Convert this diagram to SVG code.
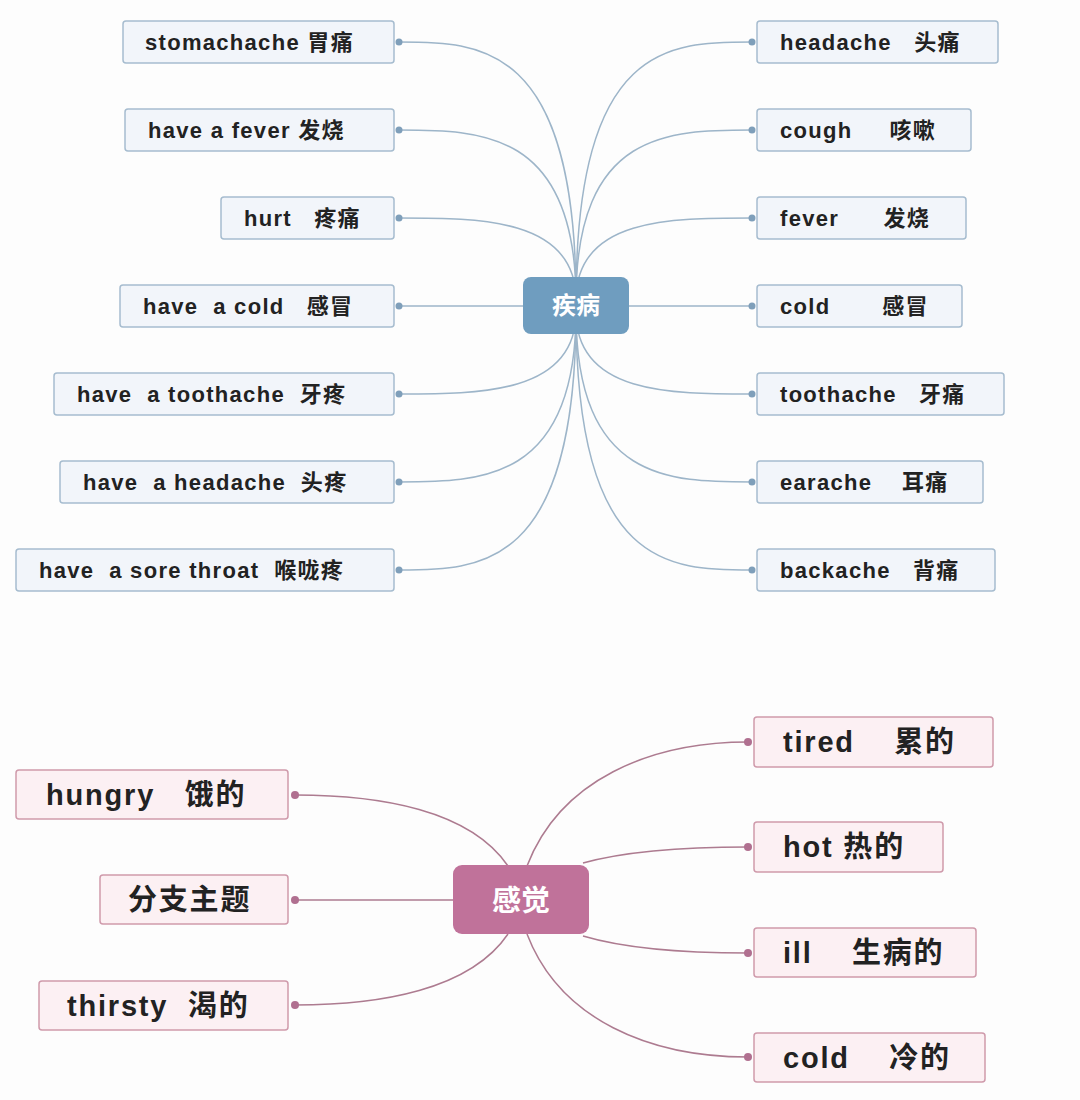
<svg xmlns="http://www.w3.org/2000/svg" width="1080" height="1100" viewBox="0 0 1080 1100">
<style>
.bb{fill:#f2f5fa;stroke:#a6bccf;stroke-width:1.5}
.pb{fill:#fcf0f3;stroke:#cf9aab;stroke-width:1.5}
.t{font-family:"Liberation Sans","Noto Sans CJK SC",sans-serif;font-weight:bold;fill:#222}
.ts{font-size:22px;letter-spacing:1.3px}
.tl{font-size:29px;letter-spacing:1.8px}
.bl{fill:none;stroke:#9db5c9;stroke-width:1.5}
.pl{fill:none;stroke:#ad7b90;stroke-width:1.5}
.bd{fill:#7f9fba}.pd{fill:#b07090}
.c{font-family:"Noto Sans CJK SC",sans-serif;font-weight:bold;fill:#fff;text-anchor:middle}
</style>
<rect width="1080" height="1100" fill="#fdfdfd"/>
<g id="connectors">
<path class="bl" d="M576 300 C576 42 480 42 399 42"/>
<path class="bl" d="M576 300 C576 130 480 130 399 130"/>
<path class="bl" d="M576 300 C576 218 480 218 399 218"/>
<path class="bl" d="M523 306 L399 306"/>
<path class="bl" d="M576 312 C576 394 480 394 399 394"/>
<path class="bl" d="M576 312 C576 482 480 482 399 482"/>
<path class="bl" d="M576 312 C576 570 480 570 399 570"/>
<path class="bl" d="M576 300 C576 42 670 42 752 42"/>
<path class="bl" d="M576 300 C576 130 670 130 752 130"/>
<path class="bl" d="M576 300 C576 218 670 218 752 218"/>
<path class="bl" d="M629 306 L752 306"/>
<path class="bl" d="M576 312 C576 394 670 394 752 394"/>
<path class="bl" d="M576 312 C576 482 670 482 752 482"/>
<path class="bl" d="M576 312 C576 570 670 570 752 570"/>
<g class="bd"><circle cx="399" cy="42" r="3.5"/><circle cx="399" cy="130" r="3.5"/><circle cx="399" cy="218" r="3.5"/><circle cx="399" cy="306" r="3.5"/><circle cx="399" cy="394" r="3.5"/><circle cx="399" cy="482" r="3.5"/><circle cx="399" cy="570" r="3.5"/>
<circle cx="752" cy="42" r="3.5"/><circle cx="752" cy="130" r="3.5"/><circle cx="752" cy="218" r="3.5"/><circle cx="752" cy="306" r="3.5"/><circle cx="752" cy="394" r="3.5"/><circle cx="752" cy="482" r="3.5"/><circle cx="752" cy="570" r="3.5"/></g>
<path class="pl" d="M508 866 C470 810 380 795 295 795"/>
<path class="pl" d="M453 900 L295 900"/>
<path class="pl" d="M508 934 C470 990 380 1005 295 1005"/>
<path class="pl" d="M527 866 C560 780 650 742 748 742"/>
<path class="pl" d="M583 863 C630 850 690 847 748 847"/>
<path class="pl" d="M583 936 C630 950 690 953 748 953"/>
<path class="pl" d="M527 934 C560 1020 650 1057 748 1057"/>
<g class="pd"><circle cx="295" cy="795" r="4"/><circle cx="295" cy="900" r="4"/><circle cx="295" cy="1005" r="4"/><circle cx="748" cy="742" r="4"/><circle cx="748" cy="847" r="4"/><circle cx="748" cy="953" r="4"/><circle cx="748" cy="1057" r="4"/></g>
</g>
<g id="n-jibing"><rect x="523" y="277" width="106" height="57" rx="8" fill="#6f9dbf"/><text class="c" x="576" y="314" font-size="24">疾病</text></g>
<g id="n-l1"><rect class="bb" x="123" y="21" width="271" height="42" rx="3"/><text class="t ts" x="145" y="50">stomachache 胃痛</text></g>
<g id="n-l2"><rect class="bb" x="125" y="109" width="269" height="42" rx="3"/><text class="t ts" x="148" y="138">have a fever  发烧</text></g>
<g id="n-l3"><rect class="bb" x="221" y="197" width="173" height="42" rx="3"/><text class="t ts" x="244" y="226" xml:space="preserve">hurt   疼痛</text></g>
<g id="n-l4"><rect class="bb" x="120" y="285" width="274" height="42" rx="3"/><text class="t ts" x="143" y="314" xml:space="preserve">have  a cold   感冒</text></g>
<g id="n-l5"><rect class="bb" x="54" y="373" width="340" height="42" rx="3"/><text class="t ts" x="77" y="402" xml:space="preserve">have  a toothache  牙疼</text></g>
<g id="n-l6"><rect class="bb" x="60" y="461" width="334" height="42" rx="3"/><text class="t ts" x="83" y="490" xml:space="preserve">have  a headache  头疼</text></g>
<g id="n-l7"><rect class="bb" x="16" y="549" width="378" height="42" rx="3"/><text class="t ts" x="39" y="578" xml:space="preserve">have  a sore throat  喉咙疼</text></g>
<g id="n-r1"><rect class="bb" x="757" y="21" width="241" height="42" rx="3"/><text class="t ts" x="780" y="50" xml:space="preserve">headache   头痛</text></g>
<g id="n-r2"><rect class="bb" x="757" y="109" width="214" height="42" rx="3"/><text class="t ts" x="780" y="138" xml:space="preserve">cough     咳嗽</text></g>
<g id="n-r3"><rect class="bb" x="757" y="197" width="209" height="42" rx="3"/><text class="t ts" x="780" y="226" xml:space="preserve">fever      发烧</text></g>
<g id="n-r4"><rect class="bb" x="757" y="285" width="205" height="42" rx="3"/><text class="t ts" x="780" y="314" xml:space="preserve">cold       感冒</text></g>
<g id="n-r5"><rect class="bb" x="757" y="373" width="247" height="42" rx="3"/><text class="t ts" x="780" y="402" xml:space="preserve">toothache   牙痛</text></g>
<g id="n-r6"><rect class="bb" x="757" y="461" width="226" height="42" rx="3"/><text class="t ts" x="780" y="490" xml:space="preserve">earache    耳痛</text></g>
<g id="n-r7"><rect class="bb" x="757" y="549" width="238" height="42" rx="3"/><text class="t ts" x="780" y="578" xml:space="preserve">backache   背痛</text></g>
<g id="n-ganjue"><rect x="453" y="865" width="136" height="69" rx="9" fill="#c0729a"/><text class="c" x="521" y="911" font-size="29">感觉</text></g>
<g id="n-b1"><rect class="pb" x="16" y="770" width="272" height="49" rx="3"/><text class="t tl" x="46" y="805" xml:space="preserve">hungry   饿的</text></g>
<g id="n-b2"><rect class="pb" x="100" y="875" width="188" height="49" rx="3"/><text class="t tl" x="128" y="910">分支主题</text></g>
<g id="n-b3"><rect class="pb" x="39" y="981" width="249" height="49" rx="3"/><text class="t tl" x="67" y="1016" xml:space="preserve">thirsty  渴的</text></g>
<g id="n-b4"><rect class="pb" x="754" y="717" width="239" height="50" rx="3"/><text class="t tl" x="783" y="752" xml:space="preserve">tired    累的</text></g>
<g id="n-b5"><rect class="pb" x="754" y="822" width="189" height="50" rx="3"/><text class="t tl" x="783" y="857">hot 热的</text></g>
<g id="n-b6"><rect class="pb" x="754" y="928" width="222" height="49" rx="3"/><text class="t tl" x="783" y="963" xml:space="preserve">ill    生病的</text></g>
<g id="n-b7"><rect class="pb" x="754" y="1033" width="231" height="49" rx="3"/><text class="t tl" x="783" y="1068" xml:space="preserve">cold    冷的</text></g>
</svg>
